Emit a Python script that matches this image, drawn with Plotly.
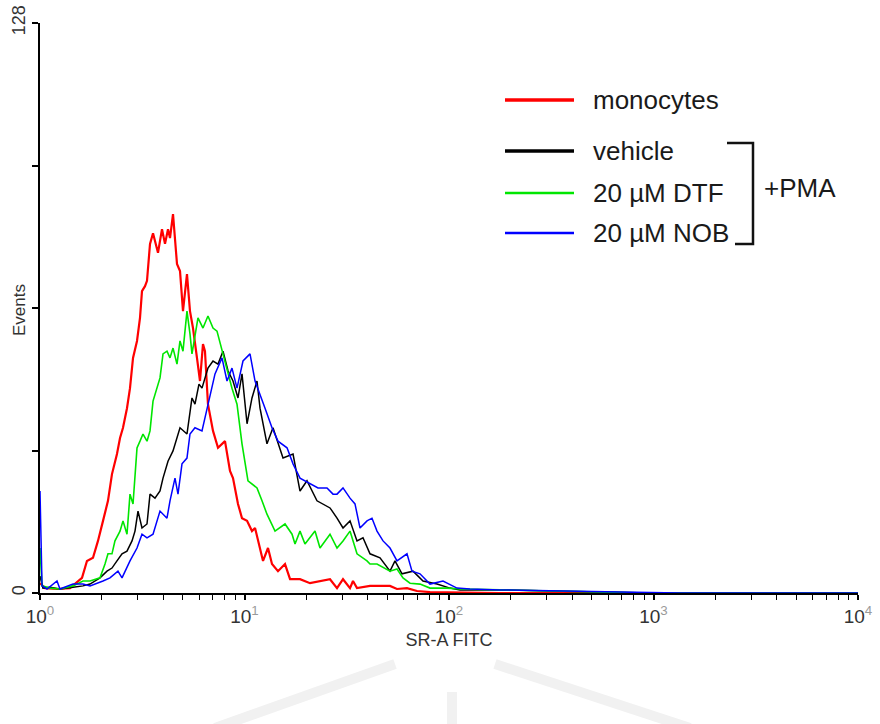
import plotly.graph_objects as go

# ---------------- data ----------------
mono_x = [1.0, 1.058, 1.211, 1.402, 1.605, 1.697, 1.816, 1.921, 2.033, 2.150, 2.249, 2.379, 2.462, 2.546,
          2.663, 2.755, 2.850, 2.981, 3.083, 3.153, 3.262, 3.336, 3.451, 3.570, 3.776, 3.950, 4.086, 4.226,
          4.322, 4.471, 4.676, 4.837, 5.003, 5.233, 5.413, 5.599, 5.856, 6.058, 6.266, 6.408, 6.628, 7.015,
          7.420, 8.028, 8.493, 8.785, 9.294, 9.723, 10.29, 10.88, 11.26, 11.91, 12.32, 13.03, 13.63, 14.58,
          15.78, 16.70, 18.68, 20.91, 26.19, 28.34, 30.32, 32.80, 33.93, 35.49, 41.09, 51.46, 55.68, 62.32,
          69.74, 80.75, 177.6, 10000]
mono_y = [2.2, 1.1, 0.9, 1.1, 3.4, 7.2, 7.9, 11.7, 16.2, 20.7, 26.7, 31.2, 34.8, 37.1,
          41.5, 46.0, 52.8, 56.6, 61.8, 67.8, 68.9, 70.1, 78.4, 80.8, 76.4, 81.7, 78.4, 81.7,
          79.7, 85.1, 73.9, 72.3, 63.3, 71.6, 63.3, 59.5, 52.8, 47.6, 55.9, 54.3, 42.4, 36.4,
          32.6, 34.1, 27.4, 25.8, 20.0, 16.8, 16.2, 13.9, 14.6, 10.1, 7.2, 10.1, 6.5, 4.9,
          6.5, 3.1, 3.1, 2.2, 3.1, 1.1, 3.1, 1.1, 2.7, 1.1, 1.6, 1.6, 0.9, 1.1,
          0.45, 0.2, 0, 0]

veh_x = [1.0, 1.034, 1.119, 1.252, 1.450, 1.623, 1.756, 1.965, 2.126, 2.249, 2.379, 2.518, 2.663, 2.818,
         2.914, 3.015, 3.153, 3.336, 3.451, 3.650, 3.862, 3.995, 4.226, 4.471, 4.837, 5.233, 5.536, 5.726,
         5.990, 6.196, 6.628, 7.015, 7.420, 7.850, 8.304, 8.785, 9.294, 9.723, 10.29, 10.88, 11.51, 11.91,
         12.88, 13.78, 15.43, 17.27, 18.68, 20.21, 22.62, 24.20, 26.19, 28.34, 30.32, 32.80, 35.49, 37.97,
         41.09, 45.99, 51.46, 54.44, 58.92, 66.68, 74.63, 87.37, 101.1, 113.2, 177.6, 311.7, 547, 961, 10000]
veh_y = [3.8, 1.1, 1.3, 0.9, 1.3, 1.6, 2.0, 3.4, 4.9, 5.6, 7.2, 8.8, 9.4, 11.7,
         13.9, 18.4, 14.6, 15.5, 22.2, 21.3, 22.9, 25.8, 29.6, 31.9, 37.1, 35.7, 43.8, 42.4,
         46.9, 46.0, 50.5, 52.1, 51.4, 54.3, 49.9, 47.6, 43.8, 49.2, 38.0, 43.8, 47.6, 41.5,
         33.5, 37.1, 30.3, 31.2, 22.9, 25.2, 20.7, 20.0, 19.1, 16.8, 14.6, 16.2, 11.7, 12.4,
         8.8, 7.9, 4.9, 7.2, 4.3, 4.9, 2.7, 2.0, 1.1, 0.7, 0.7, 0.45, 0.2, 0, 0]

dtf_x = [1.0, 1.023, 1.119, 1.252, 1.450, 1.623, 1.756, 1.965, 2.079, 2.150, 2.249, 2.326, 2.462, 2.546,
         2.663, 2.755, 2.850, 2.981, 3.083, 3.189, 3.336, 3.451, 3.570, 3.734, 3.862, 3.995, 4.178, 4.322,
         4.471, 4.676, 4.837, 5.003, 5.233, 5.413, 5.536, 5.923, 6.266, 6.628, 7.015, 7.337, 7.762, 8.211,
         8.686, 9.190, 9.723, 10.40, 11.51, 12.18, 12.88, 14.10, 15.78, 17.08, 17.66, 18.68, 19.76, 22.12,
         23.40, 26.19, 28.34, 30.32, 32.80, 35.49, 39.72, 41.09, 44.46, 51.46, 55.68, 59.58, 64.46, 72.14,
         80.75, 97.77, 113.2, 177.6, 311.7, 547, 961, 10000]
dtf_y = [10.1, 1.6, 1.1, 0.9, 1.6, 2.7, 2.7, 3.4, 6.5, 8.8, 8.8, 11.7, 13.9, 16.2,
         13.2, 22.2, 20.0, 32.6, 34.1, 35.7, 34.1, 36.4, 43.1, 46.0, 48.3, 53.7, 54.3, 52.8,
         55.0, 51.4, 56.6, 54.3, 63.3, 58.2, 53.7, 61.8, 59.5, 62.2, 59.5, 58.8, 54.3, 50.5,
         46.0, 42.4, 33.5, 25.2, 23.6, 20.7, 17.7, 13.9, 15.5, 13.2, 11.0, 13.9, 11.0, 13.9,
         10.1, 13.2, 10.1, 11.7, 13.9, 8.8, 7.2, 6.5, 6.5, 4.9, 5.4, 3.4, 2.2, 2.0,
         1.1, 1.1, 0.9, 0.7, 0.45, 0.2, 0, 0]

nob_x = [1.0, 1.023, 1.082, 1.211, 1.252, 1.450, 1.623, 1.756, 2.033, 2.199, 2.406, 2.518, 2.755, 2.981,
         3.153, 3.336, 3.570, 3.862, 4.178, 4.322, 4.572, 4.729, 4.947, 5.233, 5.413, 5.726, 6.196, 6.554,
         6.779, 7.174, 7.762, 8.211, 8.686, 9.190, 9.833, 10.64, 11.26, 11.91, 12.60, 13.63, 14.58, 16.14,
         17.27, 18.68, 20.91, 22.88, 25.32, 27.09, 28.34, 30.32, 32.80, 34.70, 36.71, 39.72, 42.02, 44.46,
         47.58, 51.46, 55.68, 62.32, 65.93, 72.14, 80.75, 93.47, 109.4, 126.6, 177.6, 311.7, 685.5, 1348, 10000]
nob_y = [22.9, 1.6, 0.9, 2.7, 0.9, 2.0, 2.0, 1.6, 2.7, 3.4, 4.9, 3.4, 7.2, 10.1,
         13.2, 12.4, 13.2, 18.4, 16.8, 20.7, 25.8, 22.2, 29.0, 30.3, 35.7, 37.1, 36.4, 41.5,
         43.8, 49.2, 52.8, 47.6, 50.5, 46.0, 52.1, 53.7, 47.6, 44.7, 41.5, 37.1, 34.1, 32.6,
         29.0, 25.8, 24.5, 23.6, 23.6, 22.2, 22.2, 23.6, 21.3, 20.0, 14.6, 16.2, 16.8, 13.9,
         11.7, 10.1, 7.2, 8.8, 4.9, 4.3, 2.0, 2.7, 1.1, 0.9, 0.7, 0.45, 0.2, 0, 0]

series_names = ["monocytes", "vehicle", "20 \u00b5M DTF", "20 \u00b5M NOB"]
series_colors = ["#ff0000", "#000000", "#00e600", "#0000ff"]

x_tickvals = [1, 10, 100, 1000, 10000]
x_exponents = ["0", "1", "2", "3", "4"]
y_tickvals = [0, 32, 64, 96, 128]
y_ticktext = ["0", "", "", "", "128"]

# ---------------- layout helpers (pixel -> paper) ----------------
L, R, T, B = 40, 858, 23, 593
W, H = 880, 724


def pxx(x):
    return (x - L) / (R - L)


def pxy(y):
    return (B - y) / (B - T)


FONT = "Liberation Sans, Arial, sans-serif"

fig = go.Figure()
xs = [mono_x, veh_x, dtf_x, nob_x]
ys = [mono_y, veh_y, dtf_y, nob_y]
widths = [2.2, 1.5, 1.6, 1.5]
for xv, yv, name, col, w in zip(xs, ys, series_names, series_colors, widths):
    fig.add_trace(go.Scatter(x=xv, y=yv, mode="lines", name=name,
                             line=dict(color=col, width=w), showlegend=False))

minor_vals = [m * 10 ** k for k in range(4) for m in range(2, 10)]

fig.update_layout(
    width=W, height=H,
    margin=dict(l=L, r=W - R, t=T, b=H - B),
    paper_bgcolor="white", plot_bgcolor="white",
    font=dict(family=FONT, color="#222"),
    showlegend=False,
    xaxis=dict(
        type="log", range=[0, 4], showgrid=False, zeroline=False,
        showline=True, linecolor="black", linewidth=2, layer="below traces",
        ticks="outside", ticklen=5, tickwidth=1.5, tickcolor="black",
        tickmode="array", tickvals=x_tickvals,
        ticktext=["10<sup><span style='color:#9a9a9a'>%s</span></sup>" % e for e in x_exponents],
        tickfont=dict(size=19, color="#333", family=FONT),
        minor=dict(ticks="outside", ticklen=5, tickwidth=1.2, tickcolor="black",
                   tickvals=minor_vals, showgrid=False),
        title=dict(text="SR-A FITC", font=dict(size=18, color="#333", family=FONT), standoff=8),
        automargin=False,
    ),
    yaxis=dict(
        range=[0, 128], showgrid=False, zeroline=False,
        showline=True, linecolor="black", linewidth=2, layer="below traces",
        ticks="outside", ticklen=6, tickwidth=1.5, tickcolor="black",
        tickmode="array", tickvals=y_tickvals, ticktext=y_ticktext, tickangle=-90,
        tickfont=dict(size=18, color="#333", family=FONT),
        automargin=False,
    ),
)

# y-axis title
fig.add_annotation(text="Events", xref="paper", yref="paper", x=pxx(19), y=pxy(310),
                   textangle=-90, showarrow=False, xanchor="center", yanchor="middle",
                   font=dict(size=17, color="#333", family=FONT))

# custom legend
leg_rows = [(100, 3.5), (151, 3.5), (193, 2.6), (233, 2.6)]
for (yy, lw), col, name in zip(leg_rows, series_colors, series_names):
    fig.add_shape(type="line", xref="paper", yref="paper",
                  x0=pxx(505), x1=pxx(574), y0=pxy(yy), y1=pxy(yy),
                  line=dict(color=col, width=lw))
    fig.add_annotation(text=name, xref="paper", yref="paper", x=pxx(591), y=pxy(yy),
                       xanchor="left", yanchor="middle", showarrow=False,
                       font=dict(size=26, color="#1a1a1a", family=FONT))

# bracket and +PMA label
fig.add_shape(type="path", xref="paper", yref="paper",
              path="M %f %f L %f %f L %f %f L %f %f" % (pxx(727), pxy(143), pxx(753), pxy(143),
                                                      pxx(753), pxy(244), pxx(735), pxy(244)),
              line=dict(color="#111", width=2.5))
fig.add_annotation(text="+PMA", xref="paper", yref="paper", x=pxx(762), y=pxy(188),
                   xanchor="left", yanchor="middle", showarrow=False,
                   font=dict(size=26, color="#1a1a1a", family=FONT))

# faint watermark at the bottom
for (x0, y0, x1, y1) in [(215, 728, 395, 664), (495, 664, 690, 728), (452, 692, 452, 728)]:
    fig.add_shape(type="line", xref="paper", yref="paper",
                  x0=pxx(x0), y0=pxy(y0), x1=pxx(x1), y1=pxy(y1),
                  line=dict(color="#f1f1f1", width=10), layer="below")

fig.write_html("out.html")
